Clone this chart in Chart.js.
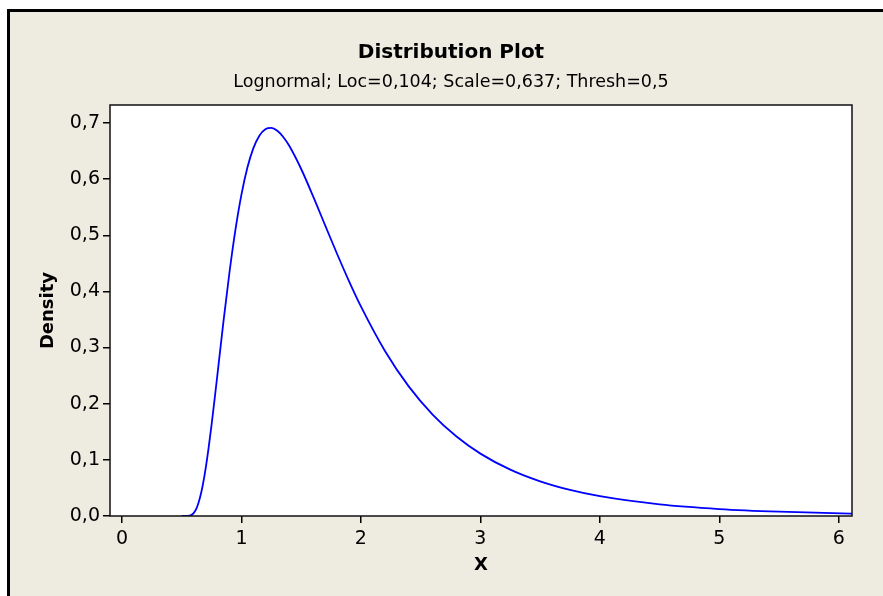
<!DOCTYPE html>
<html><head><meta charset="utf-8">
<script src="https://cdn.jsdelivr.net/npm/chart.js@4"></script>
<style>html,body{margin:0;padding:0;background:#fff;}#wrap{width:883px;height:596px;}</style>
</head><body><div id="wrap"><canvas id="c" width="883" height="596"></canvas></div>
<script>
const titleText = 'Distribution Plot';
const subtitleText = 'Lognormal; Loc=0,104; Scale=0,637; Thresh=0,5';
const xLabel = 'X';
const yLabel = 'Density';
const xValues = [0.5, 0.55, 0.575, 0.6, 0.625, 0.65, 0.675, 0.7, 0.725, 0.75, 0.775, 0.8, 0.85, 0.9, 0.95, 1.0, 1.05, 1.1, 1.15, 1.2, 1.25, 1.3, 1.35, 1.4, 1.5, 1.6, 1.7, 1.8, 1.9, 2.0, 2.2, 2.4, 2.6, 2.8, 3.0, 3.25, 3.5, 3.75, 4.0, 4.5, 5.0, 5.5, 6.1, 6.15];
const densityValues = [0, 0.0001, 0.0011, 0.005, 0.0141, 0.0301, 0.0535, 0.0841, 0.1208, 0.1623, 0.2071, 0.2536, 0.3469, 0.4341, 0.5101, 0.5725, 0.6207, 0.6552, 0.6774, 0.6889, 0.6912, 0.6862, 0.6751, 0.6593, 0.618, 0.5693, 0.518, 0.4671, 0.4185, 0.3733, 0.2944, 0.2308, 0.1806, 0.1415, 0.1111, 0.0825, 0.0617, 0.0464, 0.0352, 0.0206, 0.0124, 0.0077, 0.0044, 0.0042];
const xTickValues = [0, 1, 2, 3, 4, 5, 6];
const xTickLabels = ['0', '1', '2', '3', '4', '5', '6'];
const yTickValues = [0, 0.1, 0.2, 0.3, 0.4, 0.5, 0.6, 0.7];
const yTickLabels = ['0,0', '0,1', '0,2', '0,3', '0,4', '0,5', '0,6', '0,7'];

const FONT = 'DejaVu Sans';
const BG = '#EEEBE1';

const points = xValues.map((x, i) => ({x: x, y: densityValues[i]}));

const framePlugin = {
  id: 'frame',
  beforeDraw(chart) {
    const ctx = chart.ctx;
    ctx.save();
    ctx.fillStyle = '#ffffff';
    ctx.fillRect(0, 0, chart.width, chart.height);
    ctx.fillStyle = BG;
    ctx.fillRect(8, 9, chart.width - 8, chart.height - 9);
    ctx.strokeStyle = '#000';
    ctx.lineWidth = 3;
    ctx.beginPath();
    ctx.moveTo(8.5, chart.height);
    ctx.lineTo(8.5, 10.5);
    ctx.lineTo(chart.width, 10.5);
    ctx.stroke();
    const a = chart.chartArea;
    ctx.fillStyle = '#ffffff';
    ctx.fillRect(a.left, a.top, a.right - a.left, a.bottom - a.top);
    ctx.restore();
  },
  afterDatasetsDraw(chart) {
    const ctx = chart.ctx;
    const a = chart.chartArea;
    ctx.save();
    ctx.strokeStyle = '#111';
    ctx.lineWidth = 1.5;
    ctx.strokeRect(a.left, a.top, a.right - a.left, a.bottom - a.top);
    ctx.restore();
  }
};

new Chart(document.getElementById('c'), {
  type: 'line',
  data: {
    datasets: [{
      data: points,
      borderColor: '#0000FF',
      borderWidth: 1.8,
      pointRadius: 0,
      fill: false,
      cubicInterpolationMode: 'monotone'
    }]
  },
  options: {
    responsive: false,
    animation: false,
    devicePixelRatio: 1,
    layout: {padding: {left: 50, right: 31, top: 0, bottom: 0}},
    plugins: {
      legend: {display: false},
      tooltip: {enabled: false},
      title: {
        display: true, text: titleText, color: '#000',
        font: {family: FONT, size: 20, weight: 'bold', lineHeight: 1.2},
        padding: {top: 41, bottom: 5}
      },
      subtitle: {
        display: true, text: subtitleText, color: '#000',
        font: {family: FONT, size: 17.5, weight: 'normal', lineHeight: 1.2},
        padding: {top: 2, bottom: 12}
      }
    },
    scales: {
      x: {
        type: 'linear', min: -0.1, max: 6.11,
        afterBuildTicks(s) { s.ticks = xTickValues.map(v => ({value: v})); },
        afterFit(s) { s.height = 80; },
        ticks: {
          color: '#000', padding: 5,
          font: {family: FONT, size: 19},
          callback: (v, i) => xTickLabels[i]
        },
        grid: {display: true, drawOnChartArea: false, drawTicks: true, tickLength: 7, color: '#000', lineWidth: 1.5},
        border: {display: false},
        title: {
          display: true, text: xLabel, color: '#000',
          font: {family: FONT, size: 18, weight: 'bold', lineHeight: 1.2},
          padding: {top: 0, bottom: 20}
        }
      },
      y: {
        type: 'linear', min: 0, max: 0.732,
        afterBuildTicks(s) { s.ticks = yTickValues.map(v => ({value: v})); },
        afterFit(s) { s.width = 60; },
        ticks: {
          color: '#000', padding: 3,
          font: {family: FONT, size: 19},
          callback: (v, i) => yTickLabels[i]
        },
        grid: {display: true, drawOnChartArea: false, drawTicks: true, tickLength: 7, color: '#000', lineWidth: 1.5},
        border: {display: false},
        title: {
          display: true, text: yLabel, color: '#000',
          font: {family: FONT, size: 18, weight: 'bold', lineHeight: 1.2},
          padding: {top: -12.6, bottom: 0}
        }
      }
    }
  },
  plugins: [framePlugin]
});
</script>
</body></html>
